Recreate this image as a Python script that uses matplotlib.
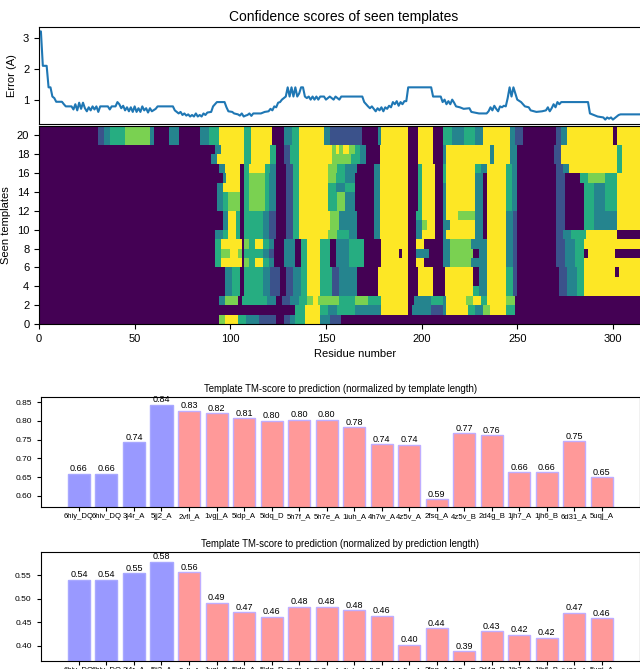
import matplotlib
matplotlib.use("Agg")
import matplotlib.pyplot as plt
import numpy as np

plt.rcParams['font.family'] = ['Liberation Sans', 'DejaVu Sans']

# ---------------------------------------------------------------
# data
# ---------------------------------------------------------------
n_res = 330          # axis runs past the right edge of the picture
n_seen = 21

# error curve: (residue, error) break points
err_points = [
    (0, 3.22), (1, 3.22), (2, 2.1), (4, 2.1), (5, 1.4), (6, 1.4), (7, 1.1), (8, 1.05),
    (9, 0.93), (12, 0.93), (13, 0.85), (14, 0.78), (17, 0.78), (18, 0.68), (19, 0.85),
    (20, 0.65), (21, 0.9), (22, 0.7), (23, 0.9), (24, 0.72), (25, 0.62), (26, 0.75),
    (27, 0.65), (28, 0.78), (29, 0.68), (30, 0.78), (31, 0.6), (32, 0.78), (36, 0.78),
    (37, 0.68), (38, 0.78), (40, 0.78), (41, 0.92), (42, 0.85), (43, 0.72), (44, 0.8),
    (45, 0.65), (46, 0.75), (47, 0.62), (48, 0.75), (49, 0.6), (50, 0.78), (51, 0.6),
    (52, 0.72), (53, 0.6), (54, 0.78), (55, 0.65), (56, 0.72), (57, 0.58), (58, 0.72),
    (59, 0.62), (61, 0.7), (62, 0.78), (70, 0.78), (71, 0.65), (72, 0.6), (73, 0.55),
    (74, 0.6), (75, 0.5), (76, 0.55), (77, 0.48), (78, 0.52), (79, 0.45), (80, 0.5),
    (81, 0.45), (82, 0.55), (83, 0.45), (84, 0.5), (85, 0.45), (86, 0.55), (87, 0.5),
    (88, 0.58), (90, 0.6), (91, 0.78), (93, 0.92), (97, 0.92), (98, 0.75), (99, 0.62),
    (101, 0.6), (102, 0.55), (104, 0.52), (105, 0.48), (106, 0.55), (107, 0.45),
    (108, 0.48), (109, 0.5), (110, 0.55), (111, 0.47), (112, 0.55), (116, 0.55),
    (118, 0.6), (120, 0.62), (121, 0.7), (122, 0.65), (123, 0.78), (124, 0.75),
    (125, 0.9), (126, 0.92), (127, 1.0), (129, 1.1), (130, 1.4), (131, 1.1), (132, 1.4),
    (133, 1.1), (134, 1.4), (135, 1.1), (136, 1.2), (137, 1.4), (138, 1.4), (139, 1.1),
    (140, 1.05), (141, 1.1), (142, 1.0), (143, 1.1), (144, 1.0), (145, 1.1), (146, 1.0),
    (147, 1.1), (149, 1.1), (150, 1.0), (152, 1.1), (154, 1.0), (155, 1.1), (157, 1.0),
    (158, 1.1), (169, 1.1), (170, 0.92), (171, 0.85), (172, 0.78), (173, 0.72),
    (174, 0.78), (175, 0.7), (176, 0.62), (177, 0.72), (178, 0.65), (179, 0.75),
    (180, 0.62), (181, 0.75), (182, 0.7), (183, 0.8), (184, 0.75), (185, 0.92),
    (186, 0.85), (187, 0.95), (188, 0.8), (189, 0.92), (190, 0.85), (191, 0.95),
    (192, 0.95), (193, 1.4), (205, 1.4), (206, 1.1), (210, 1.1), (211, 0.92),
    (212, 1.0), (213, 0.85), (214, 0.95), (215, 0.85), (216, 1.0), (217, 0.9),
    (218, 0.78), (220, 0.75), (222, 0.7), (225, 0.72), (226, 0.6), (230, 0.55),
    (234, 0.55), (235, 0.62), (236, 0.75), (237, 0.65), (238, 0.8), (239, 0.7),
    (240, 0.62), (241, 0.78), (242, 0.75), (243, 0.8), (244, 0.78), (245, 1.05),
    (246, 1.4), (247, 1.1), (248, 1.4), (249, 1.2), (250, 1.0), (252, 0.92),
    (254, 0.78), (256, 0.75), (257, 0.65), (260, 0.6), (263, 0.62), (265, 0.65),
    (266, 0.75), (267, 0.62), (268, 0.72), (269, 0.85), (270, 0.75), (271, 0.92),
    (272, 0.85), (273, 0.92), (275, 0.92), (287, 0.92), (288, 0.55), (290, 0.5),
    (292, 0.45), (295, 0.42), (296, 0.35), (297, 0.42), (298, 0.38), (299, 0.42),
    (300, 0.35), (301, 0.4), (302, 0.45), (303, 0.5), (304, 0.52), (314, 0.52),
]

# colour level of each code used in the template rows
level_values = [0.0, 0.25, 0.45, 0.62, 0.8, 1.0]

# one entry per seen template (row 0 at the bottom): "start:level" runs
seen_rows = [
    "0:0 94:4 97:5 104:3 108:2 115:1 124:0 128:1 131:2 134:3 139:5 147:2 152:1 158:0",
    "0:0 134:3 139:5 147:3 151:2 156:3 165:2 172:2 179:5 193:0 195:2 205:1 211:2 213:5 224:3 228:2 232:4 236:5 244:3 249:0",
    "0:0 94:2 97:4 104:0 106:3 114:3 119:2 124:0 127:1 131:2 136:3 140:4 143:5 146:4 157:3 165:4 172:3 179:5 193:0 196:2 205:3 211:2 213:5 223:4 227:5 231:3 234:5 244:4 249:0",
    "0:0 97:2 101:3 105:0 107:3 117:2 121:1 126:0 129:1 133:2 137:3 140:5 147:3 153:1 157:2 166:0 177:5 193:0 198:5 206:0 212:5 227:3 230:2 234:5 244:3 248:1 250:0 272:1 276:2 281:3 285:5 302:5",
    "0:0 97:2 101:3 105:0 107:3 117:2 121:1 126:0 129:1 133:2 137:3 140:5 147:3 153:1 157:2 166:0 177:5 193:0 198:5 206:0 212:5 227:0 230:2 234:5 244:3 248:1 250:0 272:1 276:2 281:3 285:5 302:5",
    "0:0 97:2 101:3 105:0 107:3 117:2 121:1 126:0 129:1 133:2 137:3 140:5 147:3 153:1 157:2 166:0 177:5 193:0 198:5 206:0 212:5 227:0 230:2 234:5 244:3 248:1 250:0 272:1 276:2 281:3 285:5 301:0 303:5",
    "0:0 92:3 95:5 106:0 107:4 110:3 113:5 117:3 120:2 123:0 128:2 134:0 137:3 140:5 147:3 152:0 155:2 162:3 170:0 179:5 193:0 197:5 201:0 211:2 215:4 226:2 229:2 234:5 244:2 248:1 250:0 270:1 275:2 280:3 285:5",
    "0:0 92:3 95:4 100:5 104:4 106:0 107:3 117:2 120:1 123:0 128:2 134:0 137:3 140:5 147:3 152:0 155:2 162:3 170:0 179:5 188:0 190:5 193:0 197:2 204:0 211:2 215:4 227:0 230:2 234:5 244:2 248:1 250:0 270:1 275:2 280:3 285:0 287:5 301:0",
    "0:0 92:3 95:5 106:0 107:4 110:3 113:5 117:3 120:2 123:0 128:2 134:0 137:3 140:5 147:3 152:0 155:2 162:3 170:0 179:5 193:0 197:5 201:0 211:2 215:4 226:2 229:2 234:5 244:2 248:1 250:0 270:1 275:2 280:3 285:5",
    "0:0 92:2 96:3 99:5 103:3 105:0 107:3 117:2 120:1 124:0 129:1 133:3 136:5 151:4 156:3 162:2 166:0 175:2 178:5 193:0 197:2 200:5 207:0 211:2 213:5 228:2 232:0 234:5 244:2 248:1 250:0 270:1 274:2 278:3 286:5 302:0",
    "0:0 96:2 99:5 103:3 105:0 107:3 117:2 120:1 124:0 129:1 133:3 136:5 152:4 157:2 166:0 175:2 178:5 193:0 197:2 200:4 203:5 207:0 211:2 215:5 228:2 232:0 234:5 244:2 248:1 250:0 270:1 275:0 285:3 290:2 296:2 302:5",
    "0:0 96:2 99:5 103:3 105:0 107:3 117:2 120:1 124:0 129:1 133:3 136:5 152:4 157:2 166:0 175:2 178:5 193:0 197:3 200:5 207:0 211:2 213:5 219:4 228:2 232:0 234:5 244:2 248:1 250:0 270:1 275:0 285:3 290:2 296:2 302:5",
    "0:0 93:2 96:3 99:4 104:4 105:0 107:3 110:4 118:3 120:2 124:0 129:1 133:3 136:5 151:3 156:4 160:2 165:0 175:2 178:5 193:0 198:3 200:5 207:0 211:2 213:5 228:2 232:0 234:5 244:3 247:2 250:0 270:1 275:0 285:3 290:2 296:3 302:5",
    "0:0 93:2 96:3 99:4 104:4 105:0 107:3 110:4 118:3 120:2 124:0 129:1 133:3 136:5 151:3 156:4 160:2 165:0 175:2 178:5 193:0 198:3 200:5 207:0 211:2 213:5 228:2 232:0 234:5 244:3 247:2 250:0 270:1 275:0 285:3 290:2 296:3 302:5",
    "0:0 93:2 96:5 105:0 107:3 110:4 118:3 120:2 124:0 129:1 133:3 136:5 151:3 155:2 160:3 165:0 175:2 178:5 193:0 198:3 200:5 207:0 211:2 213:5 228:2 232:0 234:5 244:3 247:2 250:0 270:1 275:0 285:3 290:2 296:3 302:5",
    "0:0 96:2 98:5 105:0 107:3 110:4 118:3 120:2 124:0 129:1 133:3 136:5 151:4 155:3 160:2 165:0 175:2 178:5 193:0 198:3 200:5 207:0 211:3 213:5 228:2 232:0 234:5 244:3 247:2 250:0 270:1 275:0 283:3 287:4 296:3 302:5",
    "0:0 94:2 97:5 105:0 107:3 110:5 118:3 121:2 124:0 129:1 133:3 136:5 151:4 156:3 160:2 166:0 175:2 178:5 193:0 198:3 200:5 207:0 211:3 213:5 228:3 231:2 234:5 244:3 247:2 250:0 270:1 274:2 277:5 302:3 305:5",
    "0:0 90:2 93:5 107:3 111:5 121:3 124:0 128:1 131:3 136:5 153:4 163:3 168:2 171:0 178:5 193:0 198:5 206:0 211:2 213:5 236:2 238:5 246:2 250:0 269:1 273:5 302:3 305:5",
    "0:0 92:2 95:5 107:3 111:5 121:3 124:0 128:1 131:3 136:5 153:4 155:5 157:4 159:5 162:4 165:3 168:2 171:0 178:5 193:0 198:5 206:0 211:2 213:5 236:2 238:5 246:2 250:0 269:1 273:5 302:3 305:5",
    "0:0 31:1 34:2 37:3 41:3 45:4 58:2 60:0 68:2 73:0 84:2 89:3 94:5 107:3 111:5 122:0 128:2 132:3 136:5 149:2 152:1 163:1 169:0 177:2 179:5 193:0 198:5 206:0 211:3 216:2 222:3 228:2 232:5 246:2 249:1 253:0 270:1 273:2 276:5 300:0 302:5",
    "0:0 31:1 34:2 37:3 41:3 45:4 58:2 60:0 68:2 73:0 84:2 89:3 94:5 107:3 111:5 122:0 128:2 132:3 136:5 149:2 152:1 163:1 169:0 177:2 179:5 193:0 198:5 206:0 211:3 216:2 222:3 228:2 232:5 246:2 249:1 253:0 270:1 273:2 276:5 300:0 302:5",
]

templates = ["6hiy_DQ", "6hiv_DQ", "3j4r_A", "5jj2_A", "2vfl_A", "1vgj_A", "5ldp_A",
             "5ldq_D", "5h7f_A", "5h7e_A", "1iuh_A", "4h7w_A", "4z5v_A", "2fsq_A",
             "4z5v_B", "2d4g_B", "1jh7_A", "1jh6_B", "6d31_A", "5uqj_A"]
n_seen_bars = 4      # first four templates were seen in training
tm_template = [0.659, 0.659, 0.744, 0.843, 0.827, 0.821, 0.808, 0.801, 0.803, 0.803,
               0.783, 0.738, 0.737, 0.591, 0.768, 0.762, 0.663, 0.663, 0.746, 0.649]
tm_prediction = [0.541, 0.541, 0.554, 0.579, 0.556, 0.492, 0.471, 0.462, 0.483, 0.483,
                 0.476, 0.464, 0.402, 0.437, 0.388, 0.431, 0.423, 0.417, 0.470, 0.459]

# ---------------------------------------------------------------
# build the template matrix from the runs
# ---------------------------------------------------------------
grid = np.zeros((n_seen, n_res))
for i, row in enumerate(seen_rows):
    runs = [tuple(int(v) for v in tok.split(":")) for tok in row.split()]
    for j, (start, lev) in enumerate(runs):
        end = runs[j + 1][0] if j + 1 < len(runs) else n_res
        grid[i, start:end] = level_values[lev]

err_x = [p[0] for p in err_points]
err_y = [p[1] for p in err_points]

fig = plt.figure(figsize=(6.4, 6.69), dpi=100)
W, H = 640.0, 669.0

def box(left, top, right, bottom):
    return [left / W, 1 - bottom / H, (right - left) / W, (bottom - top) / H]

right_px = 39 + n_res * 1.913

# ---- error line ----
ax0 = fig.add_axes(box(39, 27, right_px, 124))
ax0.plot(err_x, err_y, color="#1f77b4", linewidth=1.5)
ax0.set_xlim(0, n_res)
ax0.set_xticks([])
ax0.set_yticks([1, 2, 3])
ax0.set_ylabel("Error (A)", fontsize=8)
ax0.tick_params(labelsize=8)

fig.text(344 / W, 1 - 17 / H, "Confidence scores of seen templates",
         ha="center", va="center", fontsize=10)

# ---- heatmap ----
ax1 = fig.add_axes(box(39, 126, right_px, 324))
ax1.pcolormesh(np.arange(n_res + 1), np.arange(n_seen + 1), grid,
               cmap="viridis", vmin=0, vmax=1, shading="flat")
ax1.set_xlim(0, n_res)
ax1.set_ylim(0, n_seen)
ax1.set_xticks(range(0, 301, 50))
ax1.set_yticks(range(0, 21, 2))
ax1.tick_params(labelsize=8)
ax1.set_xlabel("Residue number", fontsize=8)
ax1.set_ylabel("Seen templates", fontsize=8)

# ---- TM-score bars ----
face = [(0.6, 0.6, 1.0)] * n_seen_bars + [(1.0, 0.6, 0.6)] * (len(templates) - n_seen_bars)
edge = [(0.66, 0.66, 1.0)] * n_seen_bars + [(0.75, 0.68, 1.0)] * (len(templates) - n_seen_bars)

def tm_bars(ax, values, title):
    xs = np.arange(len(templates))
    ax.bar(xs, values, color=face, edgecolor=edge, linewidth=1)
    for x, v in zip(xs, values):
        ax.text(x, v + 0.001, "%.2f" % v, ha="center", va="bottom", fontsize=6.5)
    ax.set_ylim(min(values) - 0.02, max(values) + 0.02)
    ax.set_xticks(xs)
    ax.set_xticklabels(templates)
    ax.tick_params(axis="both", labelsize=6, length=3)
    ax.tick_params(axis="x", labelsize=5.6, pad=1.5)
    ax.set_title(title, fontsize=6.9, pad=4)

ax2 = fig.add_axes(box(40.7, 397.3, 640, 506.7))
tm_bars(ax2, tm_template, "Template TM-score to prediction (normalized by template length)")
ax3 = fig.add_axes(box(40.7, 552.3, 640, 660.7))
tm_bars(ax3, tm_prediction, "Template TM-score to prediction (normalized by prediction length)")

plt.savefig("out.png", dpi=100)
